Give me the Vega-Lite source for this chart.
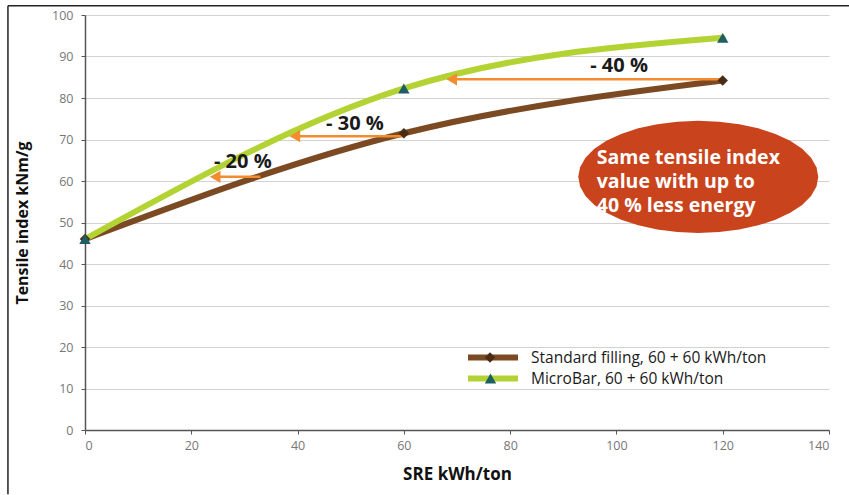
{
  "$schema": "https://vega.github.io/schema/vega-lite/v6.json",
  "width": 744,
  "height": 415,
  "autosize": "none",
  "padding": {"left": 85, "top": 15, "right": 20, "bottom": 65},
  "background": "white",
  "config": {
    "font": "Open Sans",
    "view": {"stroke": null},
    "axis": {
      "labelFont": "Open Sans",
      "labelFontSize": 12.5,
      "labelColor": "#777777",
      "domainColor": "#555555",
      "domainWidth": 1.5,
      "tickColor": "#555555",
      "tickSize": 4,
      "titleFont": "Open Sans",
      "titleFontWeight": "bold",
      "titleColor": "#111111",
      "gridColor": "#d2d2d2",
      "gridWidth": 1
    }
  },
  "resolve": {"scale": {"shape": "independent"}, "legend": {"shape": "independent"}},
  "datasets": {
    "curves": [
      {"series": "Standard filling, 60 + 60 kWh/ton", "sre": 0, "ti": 46},
      {"series": "Standard filling, 60 + 60 kWh/ton", "sre": 60, "ti": 71.5},
      {"series": "Standard filling, 60 + 60 kWh/ton", "sre": 120, "ti": 84.2},
      {"series": "MicroBar, 60 + 60 kWh/ton", "sre": 0, "ti": 46},
      {"series": "MicroBar, 60 + 60 kWh/ton", "sre": 60, "ti": 82.3},
      {"series": "MicroBar, 60 + 60 kWh/ton", "sre": 120, "ti": 94.5}
    ],
    "arrows": [
      {"label": "- 20 %", "y": 61, "from": 33, "to": 24.5, "lx": 29.7, "ly": 64.5},
      {"label": "- 30 %", "y": 70.8, "from": 60, "to": 39.5, "lx": 50.8, "ly": 73.8},
      {"label": "- 40 %", "y": 84.5, "from": 120, "to": 69, "lx": 100.5, "ly": 87.6}
    ],
    "one": [{}]
  },
  "layer": [
    {
      "data": {"name": "one"},
      "mark": {"type": "rule", "clip": false, "color": "#222222", "strokeWidth": 1.5},
      "encoding": {
        "x": {"datum": -14.5, "type": "quantitative", "scale": {"domain": [0, 140], "nice": false}},
        "y": {"datum": -15.5, "type": "quantitative", "scale": {"domain": [0, 100], "nice": false}},
        "y2": {"datum": 102.2}
      }
    },
    {
      "data": {"name": "one"},
      "mark": {"type": "rule", "clip": false, "color": "#222222", "strokeWidth": 1.5},
      "encoding": {
        "x": {"datum": -14.5, "type": "quantitative"},
        "x2": {"datum": 143.8},
        "y": {"datum": 102.2, "type": "quantitative"}
      }
    },
    {
      "data": {"name": "curves"},
      "mark": {"type": "line", "interpolate": "monotone", "strokeWidth": 6, "strokeCap": "round"},
      "encoding": {
        "x": {
          "field": "sre", "type": "quantitative",
          "scale": {"domain": [0, 140], "nice": false},
          "axis": {"values": [0, 20, 40, 60, 80, 100, 120, 140], "grid": false, "title": "SRE kWh/ton", "titleFontSize": 17, "titlePadding": 15, "labelPadding": 5}
        },
        "y": {
          "field": "ti", "type": "quantitative",
          "scale": {"domain": [0, 100], "nice": false},
          "axis": {"values": [0, 10, 20, 30, 40, 50, 60, 70, 80, 90, 100], "grid": true, "title": "Tensile index kNm/g", "titleFontSize": 16, "titlePadding": 21, "labelPadding": 8}
        },
        "color": {
          "field": "series", "type": "nominal",
          "scale": {"domain": ["Standard filling, 60 + 60 kWh/ton", "MicroBar, 60 + 60 kWh/ton"], "range": ["#7B4A22", "#B3D334"]},
          "legend": {
            "orient": "none", "legendX": 380, "legendY": 333, "title": null,
            "symbolType": "stroke", "symbolStrokeWidth": 6, "symbolSize": 2500, "clipHeight": 19,
            "labelFontSize": 15.5, "labelColor": "#1a1a1a", "labelFont": "Open Sans", "labelOffset": 10, "labelLimit": 500
          }
        },
        "order": {"field": "sre", "type": "quantitative"},
        "detail": {"field": "series"}
      }
    },
    {
      "data": {"name": "arrows"},
      "mark": {"type": "rule", "color": "#F28C2E", "strokeWidth": 2.5},
      "encoding": {
        "x": {"field": "from", "type": "quantitative"},
        "x2": {"field": "to"},
        "y": {"field": "y", "type": "quantitative"}
      }
    },
    {
      "data": {"name": "arrows"},
      "mark": {"type": "point", "shape": "triangle-left", "filled": true, "color": "#F28C2E", "opacity": 1, "size": 150},
      "encoding": {
        "x": {"field": "to", "type": "quantitative"},
        "y": {"field": "y", "type": "quantitative"}
      }
    },
    {
      "data": {"name": "curves"},
      "transform": [{"filter": "datum.series === 'Standard filling, 60 + 60 kWh/ton'"}],
      "mark": {"type": "point", "filled": true, "opacity": 1, "size": 110, "color": "#4A2C14"},
      "encoding": {
        "x": {"field": "sre", "type": "quantitative"},
        "y": {"field": "ti", "type": "quantitative"},
        "shape": {
          "field": "series", "type": "nominal",
          "scale": {"domain": ["Standard filling, 60 + 60 kWh/ton"], "range": ["diamond"]},
          "legend": {
            "orient": "none", "legendX": 399.5, "legendY": 333, "title": null,
            "labelExpr": "''", "symbolSize": 110, "clipHeight": 19, "symbolStrokeWidth": 0,
            "symbolFillColor": "#4A2C14", "symbolOpacity": 1
          }
        }
      }
    },
    {
      "data": {"name": "curves"},
      "transform": [{"filter": "datum.series === 'MicroBar, 60 + 60 kWh/ton'"}],
      "mark": {"type": "point", "filled": true, "opacity": 1, "size": 130, "color": "#1D5F63"},
      "encoding": {
        "x": {"field": "sre", "type": "quantitative"},
        "y": {"field": "ti", "type": "quantitative"},
        "shape": {
          "field": "series", "type": "nominal",
          "scale": {"domain": ["MicroBar, 60 + 60 kWh/ton"], "range": ["triangle-up"]},
          "legend": {
            "orient": "none", "legendX": 399.5, "legendY": 354, "title": null,
            "labelExpr": "''", "symbolSize": 130, "clipHeight": 19, "symbolStrokeWidth": 0,
            "symbolFillColor": "#1D5F63", "symbolOpacity": 1
          }
        }
      }
    },
    {
      "data": {"name": "arrows"},
      "mark": {"type": "text", "fontSize": 20, "fontWeight": "bold", "color": "#1a1a1a", "font": "Open Sans"},
      "encoding": {
        "x": {"field": "lx", "type": "quantitative"},
        "y": {"field": "ly", "type": "quantitative"},
        "text": {"field": "label"}
      }
    },
    {
      "data": {"name": "one"},
      "mark": {"type": "point", "shape": "M 1 0 L 0.985 0.081 L 0.94 0.16 L 0.866 0.234 L 0.766 0.3 L 0.643 0.358 L 0.5 0.404 L 0.342 0.439 L 0.174 0.46 L 0 0.467 L -0.174 0.46 L -0.342 0.439 L -0.5 0.404 L -0.643 0.358 L -0.766 0.3 L -0.866 0.234 L -0.94 0.16 L -0.985 0.081 L -1 0 L -0.985 -0.081 L -0.94 -0.16 L -0.866 -0.234 L -0.766 -0.3 L -0.643 -0.358 L -0.5 -0.404 L -0.342 -0.439 L -0.174 -0.46 L 0 -0.467 L 0.174 -0.46 L 0.342 -0.439 L 0.5 -0.404 L 0.643 -0.358 L 0.766 -0.3 L 0.866 -0.234 L 0.94 -0.16 L 0.985 -0.081 Z", "filled": true, "color": "#C9431C", "opacity": 1, "size": 57600},
      "encoding": {
        "x": {"datum": 115.4, "type": "quantitative"},
        "y": {"datum": 61, "type": "quantitative"}
      }
    },
    {
      "data": {"name": "one"},
      "mark": {"type": "text", "align": "left", "baseline": "middle", "fontSize": 19.5, "fontWeight": "bold", "color": "white", "font": "Open Sans", "lineHeight": 24},
      "encoding": {
        "x": {"datum": 96.3, "type": "quantitative"},
        "y": {"datum": 65.5, "type": "quantitative"},
        "text": {"value": ["Same tensile index", "value with up to", "40 % less energy"]}
      }
    }
  ]
}
